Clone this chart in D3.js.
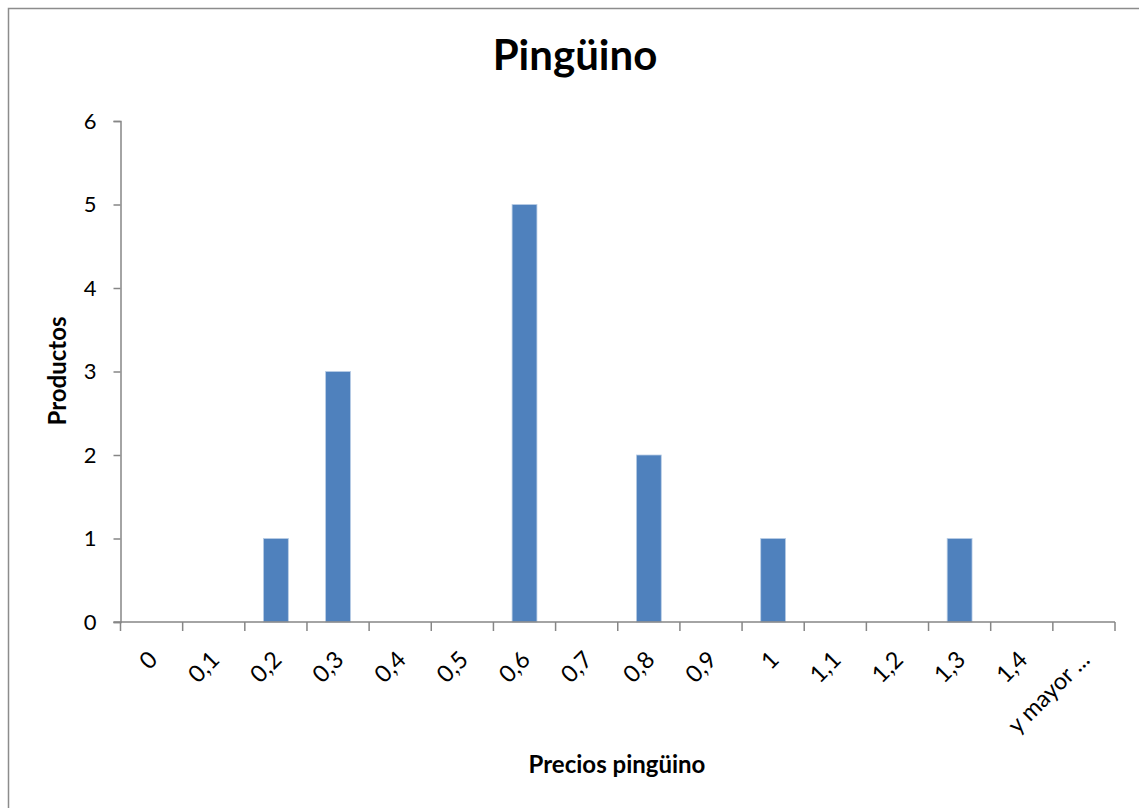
<!DOCTYPE html>
<html>
<head>
<meta charset="utf-8">
<script src="https://cdn.jsdelivr.net/npm/d3@7"></script>
<style>
  html, body { margin: 0; padding: 0; background: #fff; overflow: hidden; }
  svg { display: block; font-family: Lato, "Open Sans", sans-serif; }
</style>
</head>
<body>
<svg id="chart" width="1139" height="808"></svg>
<script>
// Histogram bins (price classes) and product counts
const categories = ["0", "0,1", "0,2", "0,3", "0,4", "0,5", "0,6", "0,7", "0,8", "0,9", "1", "1,1", "1,2", "1,3", "1,4", "y mayor ..."];
const counts = [0, 0, 1, 3, 0, 0, 5, 0, 2, 0, 1, 0, 0, 1, 0, 0];
const yTicks = [0, 1, 2, 3, 4, 5, 6];
const title = "Pingüino";
const xTitle = "Precios pingüino";
const yTitle = "Productos";

const svg = d3.select("#chart");
const plot = { left: 120.5, right: 1115, top: 121, bottom: 622 };

// Chart frame (runs off the right and bottom edges)
svg.append("rect")
  .attr("x", 8.5).attr("y", 8.5)
  .attr("width", 1200).attr("height", 900)
  .attr("fill", "#fff").attr("stroke", "#8c8c8c").attr("stroke-width", 1.5);

const xEdges = d3.scaleBand().domain(categories).range([plot.left, plot.right]);
const barWidth = xEdges.bandwidth() * 0.4;
const y = d3.scaleLinear().domain([0, 6]).range([plot.bottom, plot.top]);

// Bars
svg.append("g").selectAll("rect")
  .data(categories.map((c, i) => ({ c, v: counts[i] })).filter(d => d.v > 0))
  .join("rect")
  .attr("x", d => xEdges(d.c) + xEdges.bandwidth() / 2 - barWidth / 2)
  .attr("width", barWidth)
  .attr("y", d => y(d.v))
  .attr("height", d => y(0) - y(d.v))
  .attr("fill", "#4F81BD")
  .attr("stroke", "#b9cde5").attr("stroke-width", 0.8);

// Y axis
const yAxis = svg.append("g")
  .attr("transform", `translate(${plot.left},0)`)
  .call(d3.axisLeft(y).tickValues(yTicks).tickSize(7).tickPadding(17).tickFormat(d3.format("d")));
yAxis.select(".domain").attr("stroke", "#868686").attr("stroke-width", 1.5);
yAxis.selectAll(".tick line").attr("stroke", "#868686").attr("stroke-width", 1.5);
yAxis.selectAll(".tick text").attr("font-size", 22).attr("fill", "#000")
  .attr("font-family", "Lato, sans-serif");

// X axis: baseline plus tick marks at bin boundaries
const xg = svg.append("g");
xg.append("line")
  .attr("x1", plot.left - 7).attr("x2", plot.right)
  .attr("y1", y(0)).attr("y2", y(0))
  .attr("stroke", "#868686").attr("stroke-width", 1.5);
const edges = categories.map(c => xEdges(c)).concat([plot.right]);
xg.selectAll("line.tk").data(edges).join("line")
  .attr("class", "tk")
  .attr("x1", d => d).attr("x2", d => d)
  .attr("y1", y(0)).attr("y2", y(0) + 9)
  .attr("stroke", "#868686").attr("stroke-width", 1.5);

xg.selectAll("text.lbl").data(categories).join("text")
  .attr("class", "lbl")
  .attr("transform", c => `translate(${xEdges(c) + xEdges.bandwidth() / 2 + 3},${y(0) + 35}) rotate(-45)`)
  .attr("text-anchor", "end")
  .attr("dominant-baseline", "middle")
  .attr("font-size", 23.5)
  .attr("fill", "#000")
  .text(c => c);

// Titles
svg.append("text")
  .attr("x", 575).attr("y", 70)
  .attr("text-anchor", "middle")
  .attr("font-size", 42).attr("font-weight", "bold")
  .text(title);

svg.append("text")
  .attr("x", 617).attr("y", 773)
  .attr("text-anchor", "middle")
  .attr("font-size", 24).attr("font-weight", "bold")
  .text(xTitle);

svg.append("text")
  .attr("transform", `translate(66,371) rotate(-90)`)
  .attr("text-anchor", "middle")
  .attr("font-size", 24).attr("font-weight", "bold")
  .text(yTitle);
</script>
</body>
</html>
